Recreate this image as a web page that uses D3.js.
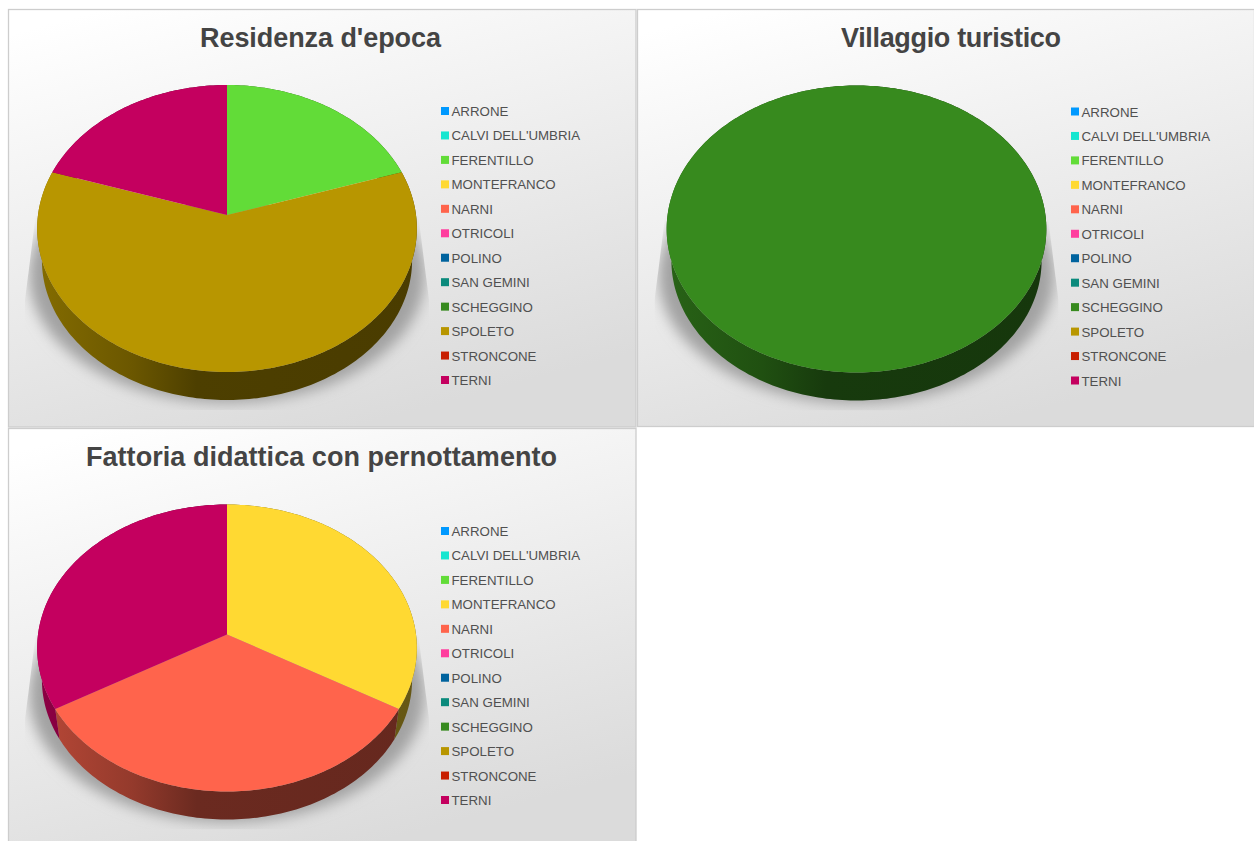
<!DOCTYPE html>
<html>
<head>
<meta charset="utf-8">
<script src="https://cdn.jsdelivr.net/npm/d3@7"></script>
<style>
    body { margin: 0; background: #fff; }
    text { font-family: "Liberation Sans", Arial, sans-serif; }
</style>
</head>
<body>
<div id="chart"></div>
<script>
var comuni = ["ARRONE", "CALVI DELL'UMBRIA", "FERENTILLO", "MONTEFRANCO", "NARNI", "OTRICOLI",
    "POLINO", "SAN GEMINI", "SCHEGGINO", "SPOLETO", "STRONCONE", "TERNI"];
var colori = ["#0099ff", "#14e6d0", "#62dc38", "#ffd932", "#ff644c", "#ff3d9e",
    "#00639e", "#0b8a7c", "#378a1e", "#b89600", "#c81e00", "#c4005f"];

var titoli = ["Residenza d'epoca", "Villaggio turistico", "Fattoria didattica con pernottamento"];
var residenza = [0, 0, 1, 0, 0, 0, 0, 0, 0, 3, 0, 1];
var villaggio = [0, 0, 0, 0, 0, 0, 0, 0, 1, 0, 0, 0];
var fattoria = [0, 0, 0, 1, 1, 0, 0, 0, 0, 0, 0, 1];
var valori = [residenza, villaggio, fattoria];

// panel boxes
var pannelli = [
    { x: 8.5, y: 9.5, w: 627.5, h: 417.5, cx: 227, apex: 215, legX: 441, legY: 111, titleX: 320.5, titleW: 241 },
    { x: 637.5, y: 9.5, w: 617, h: 417, cx: 856.5, apex: 215.5, legX: 1071, legY: 111.5, titleX: 951, titleW: 220 },
    { x: 8.5, y: 428.5, w: 627.5, h: 420, cx: 227, apex: 634.5, legX: 441, legY: 531, titleX: 321.5, titleW: 471 }
];

var svg = d3.select("#chart").append("svg")
    .attr("width", 1254)
    .attr("height", 841)
    .style("display", "block");

var defs = svg.append("defs");

var bg = defs.append("linearGradient").attr("id", "bg")
    .attr("x1", 0.15).attr("y1", 0).attr("x2", 0.55).attr("y2", 1);
bg.append("stop").attr("offset", "0").attr("stop-color", "#ffffff");
bg.append("stop").attr("offset", "1").attr("stop-color", "#dbdbdb");

defs.append("filter").attr("id", "blur").attr("x", "-20%").attr("y", "-20%")
    .attr("width", "140%").attr("height", "140%")
    .append("feGaussianBlur").attr("stdDeviation", 7);

// side wall shading: lighter on the left, darkest just before the middle
colori.forEach(function(c, i) {
    var g = defs.append("linearGradient").attr("id", "wall" + i)
        .attr("gradientUnits", "userSpaceOnUse")
        .attr("x1", -190).attr("x2", 190).attr("y1", 0).attr("y2", 0);
    [[0, 0.72], [0.25, 0.58], [0.42, 0.42], [1, 0.4]].forEach(function(s) {
        var col = d3.rgb(c);
        g.append("stop").attr("offset", s[0])
            .attr("stop-color", d3.rgb(col.r * s[1], col.g * s[1], col.b * s[1]).formatHex());
    });
});

// tilted disc: the near side is bigger than the far side
var raggioX = 189, raggioY = 142.2, prosp = 0.094, spessore = 32, rientro = 0.975;

function rim(angle, scale, dy) {
    var u = Math.sin(angle), v = Math.cos(angle), den = 1 + prosp * v;
    return [raggioX * scale * u / den, dy - raggioY * scale * v / den];
}

function arcPoints(a0, a1, scale, dy) {
    var n = Math.max(2, Math.ceil((a1 - a0) / 0.02));
    return d3.range(n + 1).map(function(i) {
        return rim(a0 + (a1 - a0) * i / n, scale, dy);
    });
}

var line = d3.line();
var pie = d3.pie().sort(null);

pannelli.forEach(function(p, k) {
    svg.append("rect")
        .attr("x", p.x).attr("y", p.y)
        .attr("width", p.w).attr("height", p.h)
        .attr("fill", "url(#bg)")
        .attr("stroke", "#cdcdcd")
        .attr("stroke-width", 1.3);

    svg.append("text")
        .attr("x", p.titleX).attr("y", p.y + 37.5)
        .attr("text-anchor", "middle")
        .attr("font-size", 27)
        .attr("font-weight", "bold")
        .attr("fill", "#444444")
        .attr("textLength", p.titleW)
        .text(titoli[k]);

    var g = svg.append("g").attr("transform", "translate(" + p.cx + "," + p.apex + ")");

    // shadow under the disc, cut by a trapezoid
    defs.append("clipPath").attr("id", "clip" + k).append("path")
        .attr("d", "M-190,-10L190,-10L202,85L202,195L-202,195L-202,85Z");
    g.append("g").attr("clip-path", "url(#clip" + k + ")")
        .append("ellipse")
        .attr("cx", 0).attr("cy", 60)
        .attr("rx", 198).attr("ry", 128)
        .attr("fill", "#a2a2a2")
        .attr("filter", "url(#blur)");

    var slices = pie(valori[k]).map(function(s, i) {
        s.i = i;
        return s;
    }).filter(function(s) { return s.value > 0; });

    // walls first, the top covers whatever faces away
    slices.forEach(function(s) {
        var top = arcPoints(s.startAngle, s.endAngle, 1, 0);
        var bottom = arcPoints(s.startAngle, s.endAngle, rientro, spessore).reverse();
        g.append("path")
            .attr("d", line(top.concat(bottom)) + "Z")
            .attr("fill", "url(#wall" + s.i + ")");
    });

    slices.forEach(function(s) {
        var pts = arcPoints(s.startAngle, s.endAngle, 1, 0);
        if (s.endAngle - s.startAngle < 2 * Math.PI - 0.001) pts = pts.concat([[0, 0]]);
        g.append("path")
            .attr("d", line(pts) + "Z")
            .attr("fill", colori[s.i]);
    });

    // legend
    var righe = d3.scalePoint().domain(comuni).range([p.legY, p.legY + 269]);
    var leg = svg.append("g").selectAll("g").data(comuni).enter().append("g")
        .attr("transform", function(d) { return "translate(" + p.legX + "," + righe(d) + ")"; });
    leg.append("rect")
        .attr("x", 0).attr("y", -4)
        .attr("width", 8).attr("height", 8)
        .attr("fill", function(d, i) { return colori[i]; });
    leg.append("text")
        .attr("x", 10.5).attr("y", 5)
        .attr("font-size", 13.3)
        .attr("fill", "#505050")
        .text(function(d) { return d; });
});
</script>
</body>
</html>
